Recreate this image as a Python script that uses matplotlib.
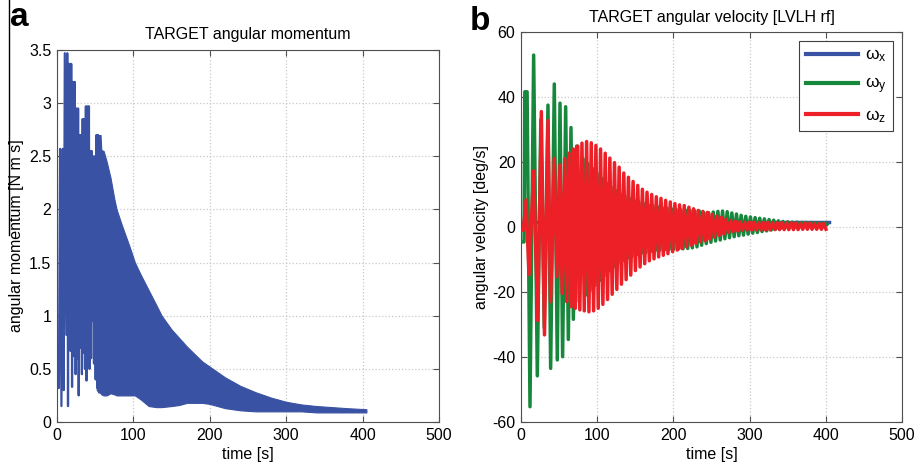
import numpy as np
import matplotlib
matplotlib.use("Agg")
import matplotlib.pyplot as plt
from matplotlib.lines import Line2D

plt.rcParams['font.family'] = ['Liberation Sans', 'DejaVu Sans']
plt.rcParams['font.size'] = 11.5
plt.rcParams['axes.unicode_minus'] = False
plt.rcParams['mathtext.fontset'] = 'custom'
plt.rcParams['mathtext.rm'] = 'Liberation Sans'
plt.rcParams['mathtext.it'] = 'Liberation Sans'

# ---------------- panel a : angular momentum ----------------
# first ~55 s : single spikes (alternating high / low values)
ha_t = [0, 2.5, 4.0, 5.8, 7.5, 8.8, 10.2, 12.2, 13.4, 14.4, 15.6, 17.5, 18.6, 19.7,
        20.8, 21.8, 23.2, 24.4, 25.5, 26.5, 27.6, 28.4, 29.5, 30.6, 31.6, 32.6,
        33.6, 34.4, 35.6, 36.6, 37.8, 38.6, 39.8, 40.8, 41.8, 42.6, 43.6, 44.6,
        45.4, 46.2, 47.2, 48.4, 49.6, 50.6, 51.6, 52.6, 53.8, 55.0]
ha_v = [0.32, 0.32, 2.57, 0.15, 2.57, 0.30, 3.47, 0.82, 3.47, 0.15, 3.37, 0.67, 3.37, 0.33,
        3.20, 0.62, 3.20, 0.45, 2.95, 0.60, 2.95, 0.25, 2.70, 0.70, 2.70, 0.45,
        2.85, 0.65, 2.85, 0.50, 2.97, 0.39, 2.97, 0.60, 2.97, 0.50, 2.55, 0.60,
        2.55, 0.95, 2.50, 0.55, 2.50, 0.40, 2.70, 0.32, 2.70, 0.28]

# after ~52 s the oscillation is dense: upper / lower envelope
env_t = [52, 57, 58, 61, 65, 70, 75, 78, 85, 90, 95, 102, 110, 120, 130, 137, 150, 160,
         170, 180, 190, 200, 220, 240, 260, 280, 300, 320, 340, 360, 380, 405]
env_hi = [2.70, 2.70, 2.56, 2.55, 2.45, 2.30, 2.10, 2.00, 1.85, 1.75, 1.65, 1.50, 1.38,
          1.24, 1.10, 1.00, 0.87, 0.79, 0.71, 0.64, 0.57, 0.52, 0.42, 0.34, 0.28, 0.23,
          0.19, 0.165, 0.15, 0.14, 0.13, 0.12]
env_lo = [0.30, 0.27, 0.26, 0.25, 0.25, 0.27, 0.26, 0.25, 0.25, 0.25, 0.25, 0.25, 0.21,
          0.15, 0.14, 0.14, 0.15, 0.16, 0.18, 0.18, 0.18, 0.17, 0.13, 0.11, 0.10, 0.10,
          0.10, 0.10, 0.09, 0.09, 0.09, 0.09]

# ---------------- panel b : angular velocity ----------------
wx_t = [0, 404]
wx_v = [1.6, 1.6]

# irregular start (extrema)
wy_t0 = [0, 4, 5, 8, 11.8, 16.6, 21.4, 26, 30.5, 35.4, 38.9, 43.7, 47.6, 51.2, 54.6,
         58.6, 62.1, 65.6, 68.7, 73, 76.5]
wy_v0 = [-4.6, -4.6, 41.6, 41.6, -55.3, 52.9, -45.8, 33, -31, 37.5, -43.5, 44, -40.9,
         38.1, -39.9, 37, -34.6, 30.6, -28.4, 24.9, -23]
wz_t0 = [0, 3, 6.6, 10.5, 16.6, 21.9, 26.7, 30.8, 35.4, 38.8, 43.7, 47, 51.2, 54, 57.5,
         60, 63, 65.8, 68.6, 71.3, 74.5, 77.2]
wz_v0 = [-1, -1, 8.3, -14.6, 17.3, -28.8, 35.5, -33.2, 32.7, -23, 21.1, -15.3, 19.1,
         -20.4, 21, -23, 22.7, -24.5, 24.0, -25, 24.9, -25.5]

# regular part : one peak and one trough per cycle (~6.1 s), from 80 s
t_cyc = np.arange(80, 400, 6.1)
wz_peak = [25.8, 26.3, 25.9, 25.1, 24.0, 22.7, 21.2, 19.8, 18.4, 16.6, 15.3, 14.0, 12.8,
           11.6, 10.7, 10.0, 9.3, 8.8, 8.2, 7.7, 7.2, 6.8, 6.6, 6.1, 5.6, 5.1, 4.8, 4.5,
           3.9, 3.4, 3.0, 2.4, 2.0, 1.8, 1.6, 1.5, 1.5, 1.5, 1.4, 1.4, 1.4, 1.4, 1.3,
           1.3, 1.3, 1.3, 1.2, 1.2, 1.2, 1.2, 1.1, 1.1, 1.1]
wz_trough = [-25.8, -26.1, -25.8, -25.0, -23.8, -22.3, -20.7, -19.2, -17.6, -16.2, -14.8,
             -13.4, -12.3, -11.3, -10.4, -9.8, -9.2, -8.7, -8.2, -7.6, -7.1, -6.6, -6.1,
             -5.6, -5.0, -4.6, -4.2, -3.7, -3.1, -2.6, -2.1, -1.7, -1.4, -1.2, -1.0,
             -0.9, -0.9, -0.9, -0.9, -0.9, -0.9, -0.8, -0.8, -0.8, -0.8, -0.8, -0.8,
             -0.7, -0.7, -0.7, -0.7, -0.7, -0.7]
wy_peak = [21, 19.5, 18, 16.5, 15, 13.5, 12.3, 11.2, 10.2, 9.4, 8.7, 8.1, 7.6, 7.2, 6.8,
           6.5, 6.2, 6.0, 5.8, 5.6, 5.4, 5.3, 5.2, 5.1, 5.0, 4.9, 4.4, 4.4, 4.6, 4.8, 4.9,
           4.7, 4.3, 4.0, 3.6, 3.3, 3.1, 2.9, 2.7, 2.5, 2.3, 2.1, 1.9, 1.7, 1.6, 1.5,
           1.5, 1.4, 1.4, 1.4, 1.3, 1.3, 1.3]
wy_trough = [-21, -19.5, -18, -16.5, -15, -13.5, -12.3, -11.2, -10.3, -9.6, -9.0, -8.5,
             -8.1, -7.8, -7.5, -7.3, -7.1, -7.0, -6.9, -6.8, -6.8, -6.7, -6.6, -6.4,
             -6.1, -5.6, -5.1, -4.7, -4.3, -4.0, -3.6, -3.3, -3.0, -2.7, -2.5, -2.2,
             -1.9, -1.7, -1.4, -1.2, -0.9, -0.6, -0.4, -0.1, 0.1, 0.3, 0.4, 0.5, 0.6,
             0.6, 0.7, 0.7, 0.8]


def zigzag(t0, v0, tp, vp, tt, vt):
    # join the listed start with alternating peak / trough pairs
    t = np.column_stack([tp, tt]).ravel()
    v = np.column_stack([vp, vt]).ravel()
    return np.concatenate([t0, t]), np.concatenate([v0, v])


c_blue = '#3a52a3'
c_green = '#17873c'
c_red = '#ed1f27'
spine_c = '#505050'
grid_c = '#c8c8c8'

fig = plt.figure(figsize=(9.2, 4.7), dpi=100)
ax1 = fig.add_axes([57 / 920, 48 / 470, 382 / 920, 372 / 470])
ax2 = fig.add_axes([521 / 920, 48 / 470, 381 / 920, 390 / 470])

# panel a
ax1.fill_between(env_t, env_lo, env_hi, color=c_blue, lw=0.8, zorder=3)
ax1.plot(ha_t, ha_v, color=c_blue, lw=1.6, zorder=3)
ax1.set_xlim(0, 500)
ax1.set_ylim(0, 3.5)
ax1.set_yticks(np.arange(0, 3.51, 0.5))
ax1.set_yticklabels(['0', '0.5', '1', '1.5', '2', '2.5', '3', '3.5'])
ax1.set_title('TARGET angular momentum', fontsize=11.5, pad=8)
ax1.set_xlabel('time [s]', fontsize=11.5, labelpad=3)
ax1.set_ylabel('angular momentum [N m s]', fontsize=11.5, labelpad=4)

# panel b
ty, vy = zigzag(wy_t0, wy_v0, t_cyc + 1.5, wy_peak, t_cyc + 4.55, wy_trough)
tz, vz = zigzag(wz_t0, wz_v0, t_cyc, wz_peak, t_cyc + 3.05, wz_trough)
ax2.plot(wx_t, wx_v, color=c_blue, lw=2.5, label=r'$\omega_x$', zorder=3)
ax2.plot(ty, vy, color=c_green, lw=2.5, label=r'$\omega_y$', zorder=3)
ax2.plot(tz, vz, color=c_red, lw=2.5, label=r'$\omega_z$', zorder=3)
ax2.set_xlim(0, 500)
ax2.set_ylim(-60, 60)
ax2.set_yticks(np.arange(-60, 61, 20))
ax2.set_title('TARGET angular velocity [LVLH rf]', fontsize=11.5, pad=7)
ax2.set_xlabel('time [s]', fontsize=11.5, labelpad=3)
ax2.set_ylabel('angular velocity [deg/s]', fontsize=11.5, labelpad=2)
leg = ax2.legend(loc='upper right', fancybox=False, framealpha=1, fontsize=12.5,
                 handlelength=3.0, labelspacing=0.65, borderaxespad=0.5,
                 handletextpad=0.4)
leg.get_frame().set_edgecolor('#404040')
leg.get_frame().set_linewidth(0.8)
for ln in leg.get_lines():
    ln.set_linewidth(3)

for ax in (ax1, ax2):
    ax.set_xticks(np.arange(0, 501, 100))
    ax.grid(True, color=grid_c, linestyle=':', linewidth=0.9, zorder=0)
    ax.tick_params(direction='in', top=True, right=True, length=4,
                   color=spine_c, labelsize=11.5, pad=4)
    for s in ax.spines.values():
        s.set_color(spine_c)
        s.set_linewidth(0.8)

fig.text(10 / 920, 1 - 25.5 / 470, 'a', fontsize=24, fontweight='bold')
fig.text(470 / 920, 1 - 30 / 470, 'b', fontsize=24, fontweight='bold')
fig.add_artist(Line2D([9.5 / 920, 9.5 / 920], [1, 0.5], color='black', lw=1))

fig.savefig('out.png', dpi=100)
